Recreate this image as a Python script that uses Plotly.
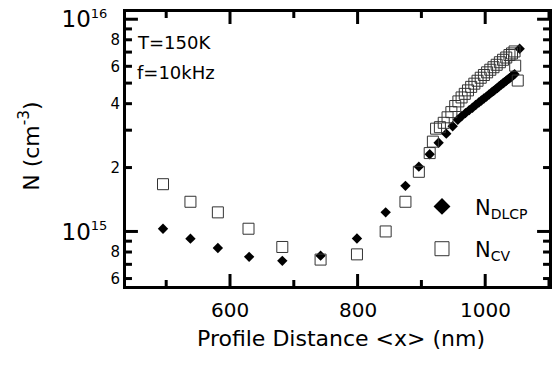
import plotly.graph_objects as go

# ---- data ----
x_dlcp = [495, 538, 581, 630, 682, 742, 799, 844, 875, 896, 913, 927, 939, 949, 957,
          963, 969, 975, 980, 985, 990, 994, 998, 1002, 1006, 1010, 1013, 1016, 1019,
          1022, 1025, 1028, 1030, 1033, 1035, 1038, 1040, 1042, 1044, 1046, 1054]
n_dlcp = [1.03e15, 9.25e14, 8.36e14, 7.59e14, 7.27e14, 7.69e14, 9.27e14, 1.23e15, 1.64e15,
          2.02e15, 2.31e15, 2.62e15, 2.89e15, 3.13e15, 3.36e15,
          3.49e15, 3.61e15, 3.73e15, 3.83e15, 3.94e15, 4.05e15, 4.14e15, 4.23e15, 4.32e15,
          4.42e15, 4.52e15, 4.59e15, 4.67e15, 4.74e15, 4.83e15, 4.91e15, 4.99e15, 5.05e15,
          5.13e15, 5.19e15, 5.27e15, 5.33e15, 5.39e15, 5.45e15, 5.51e15, 7.26e15]

x_cv = [495, 538, 581, 629, 682, 742, 799, 844, 875, 896, 913, 918, 923, 929, 935, 941,
        947, 953, 958, 963, 968, 973, 978, 983, 988, 993, 998, 1003, 1008, 1013, 1018,
        1023, 1028, 1033, 1038, 1042, 1046, 1047, 1051]
n_cv = [1.67e15, 1.38e15, 1.23e15, 1.03e15, 8.45e14, 7.37e14, 7.80e14, 1.0e15, 1.38e15,
        1.91e15, 2.34e15, 2.65e15, 3.05e15, 3.10e15, 3.25e15, 3.45e15, 3.65e15, 3.90e15,
        4.10e15, 4.28e15, 4.45e15, 4.62e15, 4.80e15, 4.97e15, 5.13e15, 5.30e15, 5.46e15,
        5.62e15, 5.78e15, 5.94e15, 6.10e15, 6.27e15, 6.44e15, 6.60e15, 6.78e15, 6.90e15,
        7.05e15, 6.04e15, 5.14e15]

x_major = [600, 800, 1000]
x_major_text = ["600", "800", "1000"]
x_minor = [500, 700, 900, 1100]
y_decades = [1e15, 1e16]
y_decade_text = ["10<sup><span style='font-size:13px'>15</span></sup>",
                 "10<sup><span style='font-size:13px'>16</span></sup>"]
y_minor = [6e14, 7e14, 8e14, 9e14, 2e15, 3e15, 4e15, 5e15, 6e15, 7e15, 8e15, 9e15]
y_minor_text = ["6", " ", "8", " ", "2", " ", "4", " ", "6", " ", "8", " "]

FONT = "DejaVu Sans, Arial, sans-serif"
MAJ, MIN, TW = 12, 6, 3

W, H = 554, 368
ML, MR, MT, MB = 126, 2, 12, 82
yr = [14.743, 16.034]
xr = [437, 1100]

# size of one pixel in axis units (tick lengths are given in pixels)
dx = (xr[1] - xr[0]) / (W - ML - MR)
dy = (yr[1] - yr[0]) / (H - MT - MB)

fig = go.Figure()
fig.add_trace(go.Scatter(x=x_dlcp, y=n_dlcp, mode="markers", showlegend=False,
                         xaxis="x", yaxis="y",
                         marker=dict(symbol="diamond", size=8, color="black",
                                     line=dict(width=0))))
fig.add_trace(go.Scatter(x=x_cv, y=n_cv, mode="markers", showlegend=False,
                         xaxis="x", yaxis="y2",
                         marker=dict(symbol="square-open", size=11, color="#333",
                                     line=dict(width=1))))
# legend-only entries (larger symbols)
fig.add_trace(go.Scatter(x=[None], y=[None], mode="markers",
                         name="N<sub><span style='font-size:14px'>DLCP</span></sub>",
                         legendgroup="a", xaxis="x", yaxis="y2",
                         marker=dict(symbol="diamond", size=13, color="black")))
fig.add_trace(go.Scatter(x=[None], y=[None], mode="markers",
                         name="N<sub><span style='font-size:14px'>CV</span></sub>",
                         legendgroup="b", xaxis="x", yaxis="y2",
                         marker=dict(symbol="square-open", size=14, color="#333",
                                     line=dict(width=1))))

# inside tick marks on all four sides, built from the tick value lists
tx, ty = [], []
for vals, ln in ((x_major, MAJ), (x_minor, MIN)):
    for v in vals:
        tx += [v, v, None, v, v, None]
        ty += [10 ** yr[0], 10 ** (yr[0] + ln * dy), None,
               10 ** yr[1], 10 ** (yr[1] - ln * dy), None]
for vals, ln in ((y_decades, MAJ), (y_minor, MIN)):
    for v in vals:
        tx += [xr[0], xr[0] + ln * dx, None, xr[1], xr[1] - ln * dx, None]
        ty += [v, v, None, v, v, None]
fig.add_trace(go.Scatter(x=tx, y=ty, mode="lines", showlegend=False, hoverinfo="skip",
                         connectgaps=False, xaxis="x", yaxis="y",
                         line=dict(color="black", width=TW)))

fig.update_layout(
    width=W, height=H,
    margin=dict(l=ML, r=MR, t=MT, b=MB),
    paper_bgcolor="white", plot_bgcolor="white",
    font=dict(family=FONT, color="black"),
    showlegend=True,
    legend=dict(x=0.669, y=0.364, xanchor="left", yanchor="top",
                bgcolor="rgba(0,0,0,0)", font=dict(size=21), itemwidth=56,
                tracegroupgap=12, traceorder="grouped"),
    xaxis=dict(range=xr, autorange=False, showline=True, linewidth=3, linecolor="black",
               mirror=True, ticks="", showticklabels=False,
               showgrid=False, zeroline=False),
    yaxis=dict(type="log", range=yr, autorange=False, showline=True, linewidth=3,
               linecolor="black", mirror=True, ticks="",
               tickmode="array", tickvals=y_decades, ticktext=y_decade_text,
               tickfont=dict(size=23), ticklabelstandoff=11, showgrid=False,
               zeroline=False),
    yaxis2=dict(type="log", range=yr, autorange=False, overlaying="y", side="left",
                anchor="x", showline=False, ticks="",
                tickmode="array", tickvals=y_minor, ticktext=y_minor_text,
                tickfont=dict(size=15), ticklabelstandoff=5,
                showgrid=False, zeroline=False),
)

# x tick labels
for v, t in zip(x_major, x_major_text):
    fig.add_annotation(text=t, xref="x", yref="paper", x=v, y=-0.0889,
                       xanchor="center", yanchor="middle", showarrow=False,
                       font=dict(size=20))

fig.add_annotation(text="Profile Distance &lt;x&gt; (nm)", xref="paper", yref="paper",
                   x=0.508, y=-0.1906, xanchor="center", yanchor="middle",
                   showarrow=False, font=dict(size=22))
fig.add_annotation(text="N (cm<sup>-3</sup>)", xref="paper", yref="paper",
                   x=-0.228, y=0.51, xanchor="center", yanchor="middle",
                   textangle=-90, showarrow=False, font=dict(size=22))
fig.add_annotation(text="T=150K", xref="paper", yref="paper", x=0.022, y=0.8875,
                   xanchor="left", yanchor="middle", showarrow=False,
                   font=dict(size=18))
fig.add_annotation(text="f=10kHz", xref="paper", yref="paper", x=0.022, y=0.7786,
                   xanchor="left", yanchor="middle", showarrow=False,
                   font=dict(size=18))

fig.write_html("out.html")
